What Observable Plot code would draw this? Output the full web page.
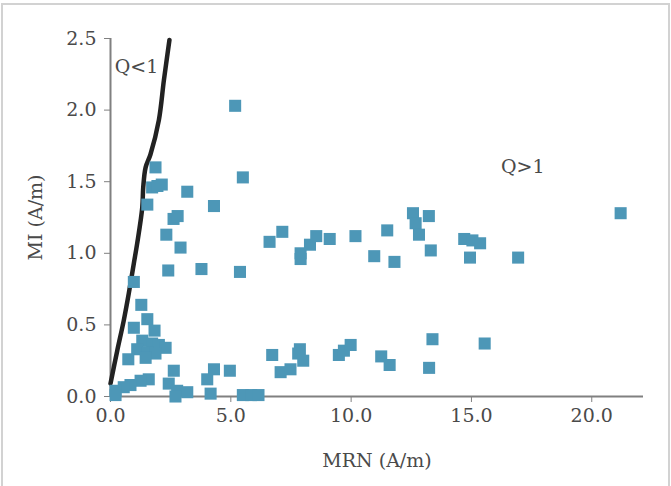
<!DOCTYPE html>
<html>
<head>
<meta charset="utf-8">
<script src="https://cdn.jsdelivr.net/npm/d3@7"></script>
<script src="https://cdn.jsdelivr.net/npm/@observablehq/plot@0.6"></script>
<style>
  html, body { margin: 0; padding: 0; background: #fff; }
  #wrap { position: relative; width: 671px; height: 486px; overflow: hidden; }
  #frame { position: absolute; left: 1px; top: 3px; width: 665px; height: 490px;
           border: 2px solid #d2d2d2; border-bottom: none; pointer-events: none; }
  #chart { position: absolute; left: 0; top: 0; }
</style>
</head>
<body>
<div id="wrap">
  <div id="chart"></div>
  <div id="frame"></div>
</div>
<script>
// Remanence measurements: MRN (natural remanent magnetisation) vs MI (induced)
const mrn = [
  5.18, 5.50, 1.87, 1.73, 1.95, 2.13, 3.19, 1.53, 4.30, 2.62, 2.79, 2.32, 2.91, 2.40, 3.78, 5.38, 0.97,
  6.61, 7.14, 7.90, 7.90, 8.29, 8.55, 9.11, 10.18, 10.96, 11.50, 11.80, 12.57, 12.68, 12.82, 13.23, 13.31,
  14.70, 15.04, 15.36, 14.94, 16.94, 21.20,
  6.72, 7.07, 7.48, 7.87, 7.80, 8.01, 9.49, 9.70, 9.98, 11.25, 11.60, 13.38, 13.24, 15.55,
  1.28, 1.53, 0.97, 1.83, 1.32, 1.73, 2.01, 2.29, 1.11, 1.53, 1.87, 1.46, 0.74, 2.63, 1.59, 1.25,
  0.83, 0.55, 0.21, 0.21, 2.42, 2.77, 3.19, 2.70, 4.02, 4.30, 4.16, 4.96, 5.50, 5.85, 6.15
];
const mi = [
  2.03, 1.53, 1.60, 1.46, 1.47, 1.48, 1.43, 1.34, 1.33, 1.24, 1.26, 1.13, 1.04, 0.88, 0.89, 0.87, 0.80,
  1.08, 1.15, 1.00, 0.96, 1.06, 1.12, 1.10, 1.12, 0.98, 1.16, 0.94, 1.28, 1.21, 1.13, 1.26, 1.02,
  1.10, 1.09, 1.07, 0.97, 0.97, 1.28,
  0.29, 0.17, 0.19, 0.33, 0.30, 0.25, 0.29, 0.32, 0.36, 0.28, 0.22, 0.40, 0.20, 0.37,
  0.64, 0.54, 0.48, 0.46, 0.39, 0.37, 0.36, 0.34, 0.33, 0.31, 0.30, 0.27, 0.26, 0.18, 0.12, 0.11,
  0.08, 0.065, 0.04, 0.01, 0.09, 0.04, 0.03, 0.00, 0.12, 0.19, 0.02, 0.18, 0.01, 0.01, 0.01
];

// Koenigsberger ratio boundary Q = 1
const boundaryMrn = [0.0, 0.28, 0.55, 0.76, 0.97, 1.11, 1.32, 1.36, 1.46, 1.66, 2.01, 2.22, 2.45];
const boundaryMi  = [0.09, 0.32, 0.53, 0.72, 0.93, 1.07, 1.32, 1.46, 1.60, 1.69, 1.93, 2.21, 2.49];

const xTicks = [0, 5, 10, 15, 20];
const yTicks = [0, 0.5, 1.0, 1.5, 2.0, 2.5];
const regionLabels = ["Q<1", "Q>1"];
const regionX = [1.08, 17.13];
const regionY = [2.30, 1.60];

const points = mrn.map((x, i) => ({x, y: mi[i]}));
const boundary = boundaryMrn.map((x, i) => ({x, y: boundaryMi[i]}));
const regions = regionLabels.map((t, i) => ({t, x: regionX[i], y: regionY[i]}));

const fmt = d3.format(".1f");
const font = "'DejaVu Serif', serif";

const chart = Plot.plot({
  width: 671,
  height: 486,
  marginLeft: 110,
  marginRight: 28,
  marginTop: 38,
  marginBottom: 90,
  style: { fontFamily: font, fontSize: "19px", color: "#4a4a4a", background: "transparent" },
  x: { domain: [0, 22.15] },
  y: { domain: [0, 2.5] },
  marks: [
    Plot.ruleY([0], { stroke: "#808080", strokeWidth: 2 }),
    Plot.ruleX([0], { stroke: "#808080", strokeWidth: 2 }),
    Plot.axisX({
      ticks: xTicks, tickFormat: fmt, tickSize: 6, tickPadding: 6, stroke: "#808080",
      label: "MRN (A/m)", labelAnchor: "center", labelOffset: 70, labelArrow: "none"
    }),
    Plot.axisY({
      ticks: yTicks, tickFormat: fmt, tickSize: 6, tickPadding: 8, stroke: "#808080",
      label: "MI (A/m)", labelAnchor: "center", labelOffset: 82, labelArrow: "none"
    }),
    Plot.line(boundary, { x: "x", y: "y", stroke: "#222", strokeWidth: 4.5, curve: "catmull-rom" }),
    Plot.dot(points, { x: "x", y: "y", symbol: "square", r: 6.8, fill: "#4d97b7", stroke: "none" }),
    Plot.text(regions, { x: "x", y: "y", text: "t", fontSize: 19, fill: "#4a4a4a" })
  ]
});

document.getElementById("chart").appendChild(chart);
</script>
</body>
</html>
